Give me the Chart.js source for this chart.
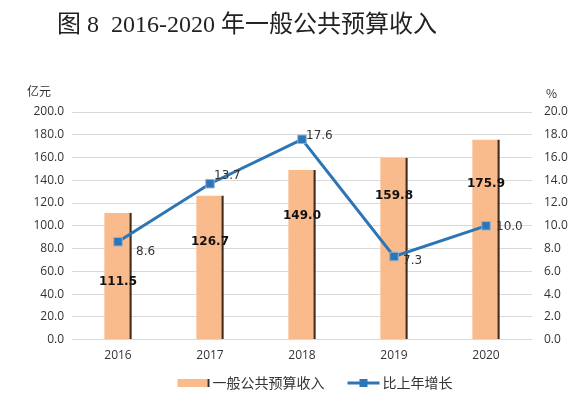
<!DOCTYPE html>
<html>
<head>
<meta charset="utf-8">
<script src="https://cdn.jsdelivr.net/npm/chart.js@4.4.1/dist/chart.umd.min.js"></script>
<style>
  html, body { margin: 0; padding: 0; background: #fff; }
  #wrap { width: 588px; height: 396px; position: relative; }
</style>
</head>
<body>
<div id="wrap"><canvas id="c"></canvas></div>
<script>
// values
const years = ['2016', '2017', '2018', '2019', '2020'];
const revenue = [111.5, 126.7, 149.0, 159.8, 175.9];   // 亿元
const growth = [8.6, 13.7, 17.6, 7.3, 10.0];           // %
const leftTicks = [0, 20, 40, 60, 80, 100, 120, 140, 160, 180, 200];
const rightTicks = [0, 2, 4, 6, 8, 10, 12, 14, 16, 18, 20];
const titleText = '图 8  2016-2020 年一般公共预算收入';

const peach = '#F9BA8C';
const barEdge = '#3d2b1f';
const blue = '#2E75B6';
const cjk = "'Noto Sans CJK SC', 'Open Sans', sans-serif";

// title, unit captions, value labels and the legend row
const extras = {
  id: 'extras',
  afterDatasetsDraw(chart, args, opts) {
    const { ctx, scales } = chart;
    ctx.save();
    ctx.textBaseline = 'middle';
    ctx.textAlign = 'left';

    ctx.font = "24px 'Liberation Serif', 'Noto Sans CJK SC', serif";
    ctx.fillStyle = '#222';
    ctx.fillText(titleText, 57, 26);

    ctx.font = '12px ' + cjk;
    ctx.fillStyle = '#333';
    ctx.fillText('亿元', 27, scales.y.top - 21);
    ctx.fillText('%', scales.y1.left + 14, scales.y1.top - 19);

    // bar labels (bold, inside bars)
    const bars = chart.getDatasetMeta(1).data;
    ctx.font = 'bold 12px "DejaVu Sans", sans-serif';
    ctx.fillStyle = '#111';
    ctx.textAlign = 'center';
    bars.forEach((b, i) => {
      const y = scales.y.getPixelForValue(opts.barLabelAt[i]);
      ctx.fillText(revenue[i].toFixed(1), b.x, y);
    });

    // line labels
    const pts = chart.getDatasetMeta(0).data;
    ctx.font = '12px "DejaVu Sans", sans-serif';
    ctx.fillStyle = '#333';
    ctx.textAlign = 'left';
    pts.forEach((p, i) => {
      const [dx, dy] = opts.lineLabelOff[i];
      ctx.fillText(growth[i].toFixed(1), p.x + dx, p.y + dy);
    });

    // legend
    const names = [chart.data.datasets[1].label, chart.data.datasets[0].label];
    ctx.font = '14px ' + cjk;
    const sw = 32, gap = 3, between = 23;
    const w0 = ctx.measureText(names[0]).width, w1 = ctx.measureText(names[1]).width;
    const total = sw + gap + w0 + between + sw + gap + w1;
    let x = 315 - total / 2;
    const ly = chart.height - 13;
    ctx.fillStyle = peach; ctx.fillRect(x, ly - 4, sw - 2, 8);
    ctx.fillStyle = barEdge; ctx.fillRect(x + sw - 2, ly - 4, 2, 8);
    x += sw + gap;
    ctx.fillStyle = '#333'; ctx.fillText(names[0], x, ly);
    x += w0 + between;
    ctx.strokeStyle = blue; ctx.lineWidth = 3;
    ctx.beginPath(); ctx.moveTo(x, ly); ctx.lineTo(x + sw, ly); ctx.stroke();
    ctx.fillStyle = blue; ctx.fillRect(x + sw / 2 - 4, ly - 4, 8, 8);
    x += sw + gap;
    ctx.fillStyle = '#333'; ctx.fillText(names[1], x, ly);
    ctx.restore();
  }
};

new Chart(document.getElementById('c'), {
  data: {
    labels: years,
    datasets: [
      {
        type: 'line',
        label: '比上年增长',
        data: growth,
        yAxisID: 'y1',
        borderColor: blue,
        borderWidth: 3,
        backgroundColor: blue,
        pointStyle: 'rect',
        pointRadius: 6,
        pointBorderColor: '#8fb3d6',
        pointBorderWidth: 1,
        pointBackgroundColor: blue,
        tension: 0,
        order: 0
      },
      {
        type: 'bar',
        label: '一般公共预算收入',
        data: revenue,
        yAxisID: 'y',
        backgroundColor: peach,
        borderColor: barEdge,
        borderWidth: { right: 2.5, top: 0, left: 0, bottom: 0 },
        borderSkipped: false,
        categoryPercentage: 1,
        barPercentage: 0.3,
        order: 1
      }
    ]
  },
  options: {
    responsive: true,
    maintainAspectRatio: false,
    animation: false,
    layout: { padding: { top: 112, left: 0, right: 0, bottom: 24 } },
    plugins: {
      title: { display: false },
      legend: { display: false },
      tooltip: { enabled: false },
      extras: {
        barLabelAt: [51, 86, 109, 126, 137],
        lineLabelOff: [[18, 10], [4, -8], [4, -3], [9, 4], [10, 1]]
      }
    },
    scales: {
      x: {
        grid: { display: false, drawTicks: false },
        border: { display: false },
        ticks: { color: '#333', font: { size: 12, family: "'Open Sans', sans-serif" }, padding: 9 }
      },
      y: {
        position: 'left',
        min: 0, max: 200,
        afterBuildTicks: s => { s.ticks = leftTicks.map(v => ({ value: v })); },
        afterFit: s => { s.width = 72; },
        grid: { color: '#d9d9d9', drawTicks: false },
        border: { display: false },
        ticks: { color: '#333', font: { size: 12, family: "'Open Sans', sans-serif" }, padding: 8, callback: v => v.toFixed(1) }
      },
      y1: {
        position: 'right',
        min: 0, max: 20,
        afterBuildTicks: s => { s.ticks = rightTicks.map(v => ({ value: v })); },
        afterFit: s => { s.width = 56; },
        grid: { display: false, drawTicks: false },
        border: { display: false },
        ticks: { color: '#333', font: { size: 12, family: "'Open Sans', sans-serif" }, padding: 12, callback: v => v.toFixed(1) }
      }
    }
  },
  plugins: [extras]
});
</script>
</body>
</html>
